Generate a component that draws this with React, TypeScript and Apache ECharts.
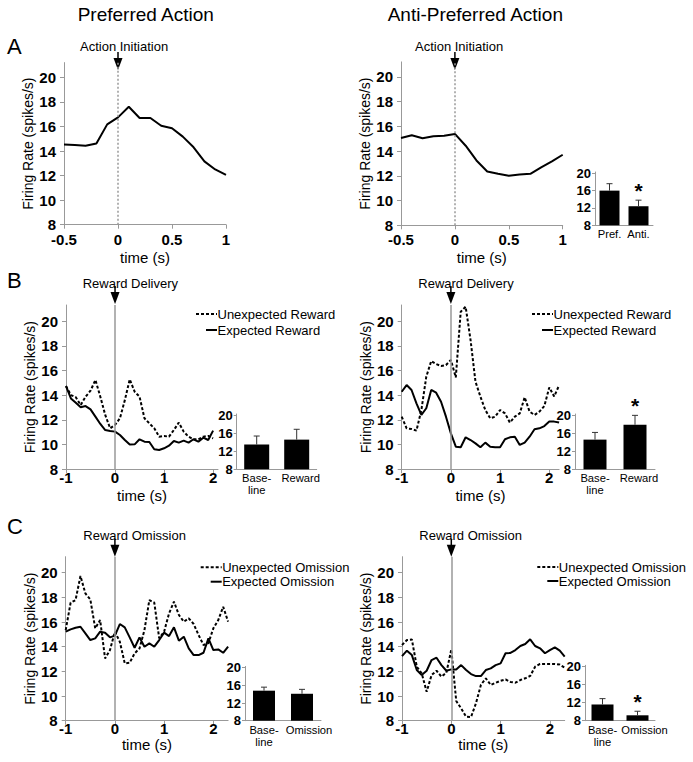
import React, { useEffect, useRef } from 'react';
import * as echarts from 'echarts';

const FONT = "'Liberation Sans', Arial, Helvetica, sans-serif";

// ---- time bases ----
const timeA = [-0.5, -0.4, -0.3, -0.2, -0.1, 0, 0.1, 0.2, 0.3, 0.4, 0.5, 0.6, 0.7, 0.8, 0.9, 1.0];
const timeLong = [-1, -0.9, -0.8, -0.7, -0.6, -0.5, -0.4, -0.3, -0.2, -0.1, 0, 0.1, 0.2, 0.3, 0.4, 0.5, 0.6,
  0.7, 0.8, 0.9, 1, 1.1, 1.2, 1.3, 1.4, 1.5, 1.6, 1.7, 1.8, 1.9, 2, 2.1, 2.2, 2.3];

// ---- A: action initiation ----
const prefAction = [14.54, 14.49, 14.43, 14.62, 16.17, 16.74, 17.6, 16.69, 16.69, 16.06, 15.85, 15.17, 14.3, 13.16, 12.5, 12.05];
const antiAction = [15.05, 15.27, 15.03, 15.19, 15.24, 15.38, 14.43, 13.24, 12.35, 12.16, 12.0, 12.1, 12.16, 12.68, 13.16, 13.7];

// ---- B: reward delivery ----
const bPrefUnexpected = [14.74, 14.01, 13.83, 13.2, 13.88, 14.36, 15.23, 13.88, 12.4, 11.32, 11.59, 12.13, 13.6, 15.28, 14.28, 13.88,
  12.13, 11.72, 11.32, 10.64, 10.7, 10.64, 11.18, 11.78, 11.05, 10.64, 10.43, 10.43, 10.64, 10.7, 10.5];
const bPrefExpected = [14.74, 13.74, 13.39, 13.02, 13.12, 12.85, 12.26, 11.67, 11.18, 11.1, 11.05, 10.78, 10.37, 10.0, 10.02, 10.43,
  10.24, 10.21, 9.62, 9.56, 9.7, 9.91, 10.29, 10.16, 10.32, 10.16, 10.43, 10.24, 10.56, 10.37, 11.13];
const bAntiUnexpected = [12.26, 11.32, 11.26, 11.13, 12.8, 15.5, 16.76, 16.52, 16.36, 16.44, 16.85, 15.44, 20.76, 21.16, 18.46, 15.09,
  13.88, 12.8, 12.13, 12.26, 12.8, 12.53, 11.78, 12.26, 12.53, 13.83, 12.67, 12.4, 12.67, 13.12, 14.63, 13.9, 14.8];
const bAntiExpected = [14.28, 14.82, 14.42, 13.34, 12.4, 12.94, 14.42, 14.2, 13.47, 12.26, 10.91, 9.83, 9.78, 10.59, 10.37, 10.1,
  9.78, 10.16, 9.83, 9.78, 9.78, 10.43, 10.59, 10.64, 9.97, 10.16, 10.64, 11.24, 11.32, 11.5, 11.86, 11.86, 11.78];

// ---- C: reward omission ----
const cPrefUnexpected = [15.35, 17.57, 17.78, 19.73, 18.32, 17.84, 15.49, 16.16, 13.05, 13.73, 15.22, 14.4, 12.65, 12.7, 13.46, 13.86,
  15.35, 17.78, 17.57, 14.68, 15.22, 16.7, 17.65, 16.57, 16.03, 16.3, 15.84, 14.95, 14.14, 14.3, 15.49, 16.16, 17.24, 16.03];
const cPrefExpected = [15.22, 15.41, 15.54, 15.62, 15.08, 14.54, 14.68, 15.22, 15.14, 14.76, 14.9, 15.84, 15.57, 14.76, 13.92, 14.76,
  14.0, 14.27, 14.0, 14.54, 15.14, 14.86, 15.57, 14.49, 14.81, 13.86, 13.32, 13.32, 13.51, 14.68, 13.73, 13.78, 13.51, 14.0];
const cAntiUnexpected = [14.14, 14.54, 14.59, 12.38, 11.84, 10.35, 11.7, 12.05, 11.57, 11.89, 13.78, 9.6, 9.0, 8.32, 8.3, 9.41,
  10.9, 11.44, 10.9, 11.08, 11.24, 11.35, 11.14, 11.08, 11.3, 11.44, 11.63, 12.38, 12.6, 12.6, 12.6, 12.6, 12.55, 12.3];
const cAntiExpected = [13.24, 13.68, 13.32, 12.11, 11.7, 12.05, 12.92, 13.11, 12.51, 12.05, 12.16, 12.16, 12.51, 12.11, 11.78, 11.62,
  11.62, 12.11, 12.24, 12.51, 12.65, 13.47, 13.5, 13.73, 14.06, 14.22, 14.6, 14.06, 13.87, 13.47, 13.73, 13.95, 13.68, 13.2];

// ---- inset bar charts ----
const insetACats = ['Pref.', 'Anti.'];
const insetAMeans = [16.0, 12.4];
const insetATops = [17.6, 13.8];
const insetASig = [0, 1];

const rewardCats = ['Base-\nline', 'Reward'];
const insetBPrefMeans = [13.5, 14.6];
const insetBPrefTops = [15.4, 16.9];
const insetBPrefSig = [0, 0];
const insetBAntiMeans = [14.6, 17.9];
const insetBAntiTops = [16.2, 20.0];
const insetBAntiSig = [0, 1];

const omissionCats = ['Base-\nline', 'Omission'];
const insetCPrefMeans = [14.8, 14.1];
const insetCPrefTops = [15.6, 15.1];
const insetCPrefSig = [0, 0];
const insetCAntiMeans = [11.6, 9.2];
const insetCAntiTops = [12.9, 10.1];
const insetCAntiSig = [0, 1];

const yTicksMain = [8, 10, 12, 14, 16, 18, 20];
const yTicksInset = [8, 12, 16, 20];
const xTicksA = [-0.5, 0, 0.5, 1];
const xTicksBC = [-1, 0, 1, 2];

const zip = (t: number[], v: number[]) => v.map((y, i) => [t[i], y]);

export default function App() {
  const ref = useRef<HTMLDivElement>(null);
  useEffect(() => {
    const chart = echarts.init(ref.current!, null, { renderer: 'svg' });

    const mains = [
      { grid: { left: 64, top: 62.6, width: 162, height: 162.1 }, xMin: -0.5, xMax: 1, xTicks: xTicksA, yMax: 21.2,
        lm: 7, ng: 25, yng: 26, zeroType: [2, 2], lines: [{ d: prefAction, t: timeA, dotted: false }] },
      { grid: { left: 401, top: 61.9, width: 161.7, height: 163.4 }, xMin: -0.5, xMax: 1, xTicks: xTicksA, yMax: 21.2,
        lm: 7, ng: 25, yng: 29, zeroType: [2, 2], lines: [{ d: antiAction, t: timeA, dotted: false }] },
      { grid: { left: 66, top: 305, width: 152, height: 164.3 }, xMin: -1, xMax: 2.1, xTicks: xTicksBC, yMax: 21.3,
        lm: 1, ng: 19, yng: 26, zeroType: 'solid', lines: [{ d: bPrefUnexpected, t: timeLong, dotted: true }, { d: bPrefExpected, t: timeLong, dotted: false }] },
      { grid: { left: 401.7, top: 305, width: 157.4, height: 164.3 }, xMin: -1, xMax: 2.2, xTicks: xTicksBC, yMax: 21.3,
        lm: 1, ng: 19, yng: 26, zeroType: 'solid', lines: [{ d: bAntiUnexpected, t: timeLong, dotted: true }, { d: bAntiExpected, t: timeLong, dotted: false }] },
      { grid: { left: 65.7, top: 556.7, width: 162.4, height: 164 }, xMin: -1, xMax: 2.3, xTicks: xTicksBC, yMax: 21.3,
        lm: 0, ng: 12, yng: 26, zeroType: 'solid', lines: [{ d: cPrefUnexpected, t: timeLong, dotted: true }, { d: cPrefExpected, t: timeLong, dotted: false }] },
      { grid: { left: 402, top: 556.7, width: 162.7, height: 164 }, xMin: -1, xMax: 2.3, xTicks: xTicksBC, yMax: 21.3,
        lm: 0, ng: 12, yng: 26, zeroType: 'solid', lines: [{ d: cAntiUnexpected, t: timeLong, dotted: true }, { d: cAntiExpected, t: timeLong, dotted: false }] },
    ];

    const insets = [
      { grid: { left: 595, top: 172, width: 58, height: 53.3 }, cats: insetACats, means: insetAMeans, tops: insetATops, sig: insetASig, bw: 20 },
      { grid: { left: 236.7, top: 414, width: 80, height: 55.3 }, cats: rewardCats, means: insetBPrefMeans, tops: insetBPrefTops, sig: insetBPrefSig, bw: 25 },
      { grid: { left: 575, top: 414, width: 80, height: 55.3 }, cats: rewardCats, means: insetBAntiMeans, tops: insetBAntiTops, sig: insetBAntiSig, bw: 23 },
      { grid: { left: 245, top: 666.4, width: 76, height: 54.3 }, cats: omissionCats, means: insetCPrefMeans, tops: insetCPrefTops, sig: insetCPrefSig, bw: 22 },
      { grid: { left: 585, top: 665.3, width: 70, height: 55.4 }, cats: omissionCats, means: insetCAntiMeans, tops: insetCAntiTops, sig: insetCAntiSig, bw: 22 },
    ];

    const grid: any[] = [];
    const xAxis: any[] = [];
    const yAxis: any[] = [];
    const series: any[] = [];
    const axisLine = { show: true, lineStyle: { color: '#999', width: 1 } };
    const catRich = {
      base: { fontFamily: FONT, fontSize: 11.2, color: '#000', lineHeight: 12 },
      o: { fontFamily: FONT, fontSize: 11.2, color: '#000', padding: [0, 0, 0, 14] },
      r: { fontFamily: FONT, fontSize: 11.2, color: '#000', padding: [0, 0, 0, 8] },
    };

    mains.forEach((p, i) => {
      grid.push(p.grid);
      xAxis.push({
        type: 'value', gridIndex: i, min: p.xMin, max: p.xMax,
        axisLine: { ...axisLine, onZero: false },
        axisTick: { show: true, length: 4, lineStyle: { color: '#999' }, customValues: p.xTicks },
        axisLabel: { customValues: p.xTicks, formatter: (v: number) => String(v), fontFamily: FONT, fontSize: 15,
          fontWeight: 'bold', color: '#000', margin: p.lm },
        splitLine: { show: false },
        name: 'time (s)', nameLocation: 'middle', nameGap: p.ng,
        nameTextStyle: { fontFamily: FONT, fontSize: 15, fontWeight: 'normal', color: '#000' },
      });
      yAxis.push({
        type: 'value', gridIndex: i, min: 8, max: p.yMax,
        axisLine: { ...axisLine, onZero: false },
        axisTick: { show: true, length: 4, lineStyle: { color: '#999' }, customValues: yTicksMain },
        axisLabel: { customValues: yTicksMain, fontFamily: FONT, fontSize: 15, fontWeight: 'bold', color: '#000', margin: 8 },
        splitLine: { show: false },
        name: 'Firing Rate (spikes/s)', nameLocation: 'middle', nameGap: p.yng,
        nameTextStyle: { fontFamily: FONT, fontSize: 14, fontWeight: 'normal', color: '#000' },
      });
      p.lines.forEach((ln, k) => {
        const s: any = {
          type: 'line', xAxisIndex: i, yAxisIndex: i, data: zip(ln.t, ln.d), showSymbol: false, symbol: 'none',
          lineStyle: { color: '#000', width: 2, type: ln.dotted ? [3, 2] : 'solid' }, z: 3,
        };
        if (k === 0) {
          s.markLine = {
            silent: true, symbol: ['none', 'none'], label: { show: false },
            lineStyle: { color: '#999', width: 1.5, type: p.zeroType },
            data: [{ xAxis: 0 }],
          };
        }
        series.push(s);
      });
    });

    insets.forEach((p, j) => {
      const i = mains.length + j;
      grid.push(p.grid);
      xAxis.push({
        type: 'category', gridIndex: i, data: p.cats,
        axisLine: axisLine, axisTick: { show: false },
        axisLabel: {
          fontFamily: FONT, fontSize: 11.2, color: '#000', margin: 3, lineHeight: 12, interval: 0,
          formatter: (v: string) => (v === 'Omission' ? '{o|Omission}' : v === 'Reward' ? '{r|Reward}' : v.split('\n').map((s) => '{base|' + s + '}').join('\n')),
          rich: catRich,
        },
      });
      yAxis.push({
        type: 'value', gridIndex: i, min: 8, max: 20.3,
        axisLine: { ...axisLine, onZero: false },
        axisTick: { show: true, length: 3, lineStyle: { color: '#999' }, customValues: yTicksInset },
        axisLabel: { customValues: yTicksInset, fontFamily: FONT, fontSize: 13, fontWeight: 'bold', color: '#000', margin: 4 },
        splitLine: { show: false },
      });
      series.push({
        type: 'bar', xAxisIndex: i, yAxisIndex: i, data: p.means, barWidth: p.bw,
        itemStyle: { color: '#000' },
      });
      series.push({
        type: 'custom', xAxisIndex: i, yAxisIndex: i,
        data: p.cats.map((c, k) => [k, p.means[k], p.tops[k], p.sig[k]]),
        renderItem: (params: any, api: any) => {
          const x = api.value(0);
          const p0 = api.coord([x, api.value(1)]);
          const p1 = api.coord([x, api.value(2)]);
          const children: any[] = [
            { type: 'line', shape: { x1: p0[0], y1: p0[1], x2: p1[0], y2: p1[1] }, style: { stroke: '#333', lineWidth: 1 } },
            { type: 'line', shape: { x1: p1[0] - 3, y1: p1[1], x2: p1[0] + 3, y2: p1[1] }, style: { stroke: '#333', lineWidth: 1 } },
          ];
          if (api.value(3)) {
            children.push({
              type: 'text', x: p1[0], y: p1[1] - 20,
              style: { text: '*', fontFamily: FONT, fontSize: 21, fontWeight: 'bold', fill: '#000', align: 'center', verticalAlign: 'top' },
            });
          }
          return { type: 'group', children };
        },
        z: 4,
      });
    });

    chart.setOption({
      animation: false,
      backgroundColor: '#fff',
      grid, xAxis, yAxis, series,
    });

    // annotations
    const events = [
      { label: 'Action Initiation', tx: 80, ty: 46, tip: 70 },
      { label: 'Action Initiation', tx: 415, ty: 46, tip: 70 },
      { label: 'Reward Delivery', tx: 82.7, ty: 283.3, tip: 304 },
      { label: 'Reward Delivery', tx: 418.3, ty: 283.3, tip: 304 },
      { label: 'Reward Omission', tx: 83.3, ty: 535, tip: 556.7 },
      { label: 'Reward Omission', tx: 419.3, ty: 535, tip: 556.7 },
    ];
    const graphic: any[] = [];
    const txt = (x: number, y: number, text: string, size: number, align = 'left', weight = 'normal') => ({
      type: 'text', x, y, silent: true,
      style: { text, fontFamily: FONT, fontSize: size, fontWeight: weight, fill: '#000', align, verticalAlign: 'middle' },
    });
    events.forEach((e, i) => {
      const x0 = chart.convertToPixel({ xAxisIndex: i } as any, 0) as number;
      graphic.push(txt(e.tx, e.ty, e.label, 13));
      graphic.push({ type: 'line', silent: true, shape: { x1: x0, y1: e.tip - 18, x2: x0, y2: e.tip - 8 }, style: { stroke: '#000', lineWidth: 1.5 } });
      graphic.push({ type: 'polygon', silent: true, shape: { points: [[x0 - 4.5, e.tip - 12], [x0 + 4.5, e.tip - 12], [x0, e.tip]] }, style: { fill: '#000' } });
    });
    graphic.push(txt(145.8, 14.2, 'Preferred Action', 19, 'center'));
    graphic.push(txt(475.3, 14.2, 'Anti-Preferred Action', 19, 'center'));
    graphic.push(txt(7, 46, 'A', 22));
    graphic.push(txt(7, 280, 'B', 22));
    graphic.push(txt(7, 526.5, 'C', 22));

    const legends = [
      { x: 217, y1: 314, y2: 330, a: 'Unexpected Reward', b: 'Expected Reward' },
      { x: 553, y1: 314, y2: 330, a: 'Unexpected Reward', b: 'Expected Reward' },
      { x: 221.7, y1: 567.3, y2: 581.7, a: 'Unexpected Omission', b: 'Expected Omission' },
      { x: 558.3, y1: 567, y2: 581, a: 'Unexpected Omission', b: 'Expected Omission' },
    ];
    legends.forEach((l) => {
      graphic.push({ type: 'line', silent: true, shape: { x1: l.x - 21, y1: l.y1, x2: l.x, y2: l.y1 }, style: { stroke: '#000', lineWidth: 2, lineDash: [3, 2] } });
      graphic.push({ type: 'line', silent: true, shape: { x1: l.x - 11, y1: l.y2, x2: l.x, y2: l.y2 }, style: { stroke: '#000', lineWidth: 2 } });
      graphic.push(txt(l.x + 0.5, l.y1, l.a, 13));
      graphic.push(txt(l.x + 0.5, l.y2, l.b, 13));
    });

    chart.setOption({ graphic });

    return () => chart.dispose();
  }, []);
  return <div ref={ref} style={{ position: 'fixed', left: 0, top: 0, width: 693, height: 762, background: '#fff' }} />;
}
